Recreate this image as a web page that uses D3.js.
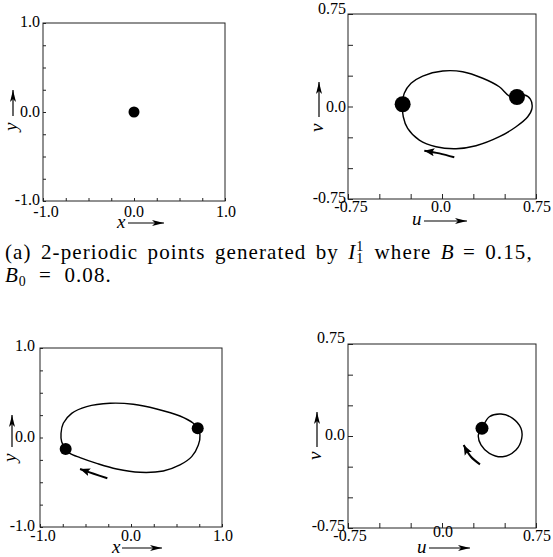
<!DOCTYPE html>
<html>
<head>
<meta charset="utf-8">
<script src="https://cdn.jsdelivr.net/npm/d3@7"></script>
<style>
  body { margin: 0; background: #fff; }
  text { font-family: "Liberation Serif", "Times New Roman", serif; fill: #000; }
</style>
</head>
<body>
<div id="chart"></div>
<script>
const width = 553;
const height = 557;

// axis ticks and labels
const xyTicks = [-1, -0.75, -0.5, -0.25, 0, 0.25, 0.5, 0.75, 1];
const xyLabelValues = [-1, 0, 1];
const xyTickLabels = ["-1.0", "0.0", "1.0"];
const uvTicks = [-0.75, -0.5, -0.25, 0, 0.25, 0.5, 0.75];
const uvLabelValues = [-0.75, 0, 0.75];
const uvTickLabels = ["-0.75", "0.0", "0.75"];

// (a) top row: x-y plane and u-v plane
const dotsA_xy = [[0, 0]];
const orbitA_uv = [
  [-0.314, 0.018], [-0.301, 0.107], [-0.247, 0.188], [-0.154, 0.247], [0.006, 0.288],
  [0.165, 0.282], [0.325, 0.229], [0.457, 0.160], [0.537, 0.085], [0.598, 0.077],
  [0.657, 0.093], [0.705, 0.060], [0.718, -0.015], [0.684, -0.083], [0.591, -0.164],
  [0.458, -0.245], [0.271, -0.318], [0.112, -0.342], [-0.048, -0.326], [-0.181, -0.272],
  [-0.274, -0.177], [-0.309, -0.083]
];
const dotsA_uv = [[-0.314, 0.018], [0.598, 0.077]];
const arrowA_uv = [[0.098, -0.412], [-0.021, -0.380], [-0.141, -0.358]];

// bottom row
const orbitB_xy = [
  [-0.718, -0.128], [-0.762, -0.047], [-0.769, 0.047], [-0.744, 0.159], [-0.652, 0.270],
  [-0.487, 0.345], [-0.231, 0.382], [0.025, 0.371], [0.282, 0.319], [0.538, 0.240],
  [0.685, 0.159], [0.733, 0.103], [0.758, 0.028], [0.740, -0.084], [0.667, -0.214],
  [0.538, -0.307], [0.355, -0.374], [0.099, -0.389], [-0.157, -0.352], [-0.377, -0.289],
  [-0.560, -0.225], [-0.670, -0.177]
];
const dotsB_xy = [[-0.718, -0.128], [0.733, 0.103]];
const arrowB_xy = [[-0.260, -0.456], [-0.410, -0.405], [-0.560, -0.352]];
const orbitB_uv = [
  [0.319, 0.063], [0.378, 0.157], [0.471, 0.179], [0.564, 0.144], [0.630, 0.063],
  [0.636, -0.019], [0.590, -0.114], [0.484, -0.169], [0.378, -0.141], [0.311, -0.073],
  [0.290, 0.008]
];
const dotsB_uv = [[0.319, 0.063]];
const arrowB_uv = [[0.303, -0.231], [0.231, -0.169], [0.173, -0.073]];

const svg = d3.select("#chart").append("svg")
  .attr("width", width)
  .attr("height", height);

const defs = svg.append("defs");
defs.append("marker")
  .attr("id", "axisHead")
  .attr("markerUnits", "userSpaceOnUse")
  .attr("markerWidth", 14).attr("markerHeight", 8)
  .attr("viewBox", "0 -4 14 8")
  .attr("refX", 12).attr("refY", 0)
  .attr("orient", "auto")
  .append("path").attr("d", "M0,-3 L12,0 L0,3 L3,0 Z").attr("fill", "#000");
defs.append("marker")
  .attr("id", "orbitHead")
  .attr("markerUnits", "userSpaceOnUse")
  .attr("markerWidth", 12).attr("markerHeight", 10)
  .attr("viewBox", "0 -5 12 10")
  .attr("refX", 10).attr("refY", 0)
  .attr("orient", "auto")
  .append("path").attr("d", "M0,-4 L10,0 L0,4 L2,0 Z").attr("fill", "#000");

const panels = [
  {
    left: 43, right: 225, top: 23, bottom: 201, domain: [-1, 1], tick: 3,
    ticks: xyTicks, labelValues: xyLabelValues, labels: xyTickLabels,
    yLab: { dx: 3, dy: [4, 5, 4] }, xLab: { dx: [3, 0, 1], dy: [16, 16, 16] },
    dots: dotsA_xy, r: 5.5,
    xName: { t: "x", x: 117, y: 228, a0: 128, a1: 164, ay: 223 },
    yName: { t: "y", x: 13, y: 131, a0: 116, a1: 90 }
  },
  {
    left: 348, right: 536, top: 14, bottom: 199, domain: [-0.75, 0.75], tick: 5,
    ticks: uvTicks, labelValues: uvLabelValues, labels: uvTickLabels,
    yLab: { dx: 2, dy: [0, 5, 4] }, xLab: { dx: [3, -1, 1], dy: [13, 13, 13] },
    orbit: orbitA_uv, dots: dotsA_uv, r: 8, arrow: arrowA_uv,
    xName: { t: "u", x: 412, y: 225, a0: 424, a1: 467, ay: 221 },
    yName: { t: "v", x: 319, y: 132, a0: 117, a1: 82 }
  },
  {
    left: 40, right: 222, top: 348, bottom: 527, domain: [-1, 1], tick: 3,
    ticks: xyTicks, labelValues: xyLabelValues, labels: xyTickLabels,
    yLab: { dx: 5, dy: [3, 4, 4] }, xLab: { dx: [3, 0, 1], dy: [14, 14, 14] },
    orbit: orbitB_xy, dots: dotsB_xy, r: 6, arrow: arrowB_xy,
    xName: { t: "x", x: 112, y: 553, a0: 122, a1: 162, ay: 548 },
    yName: { t: "y", x: 12, y: 462, a0: 447, a1: 415 }
  },
  {
    left: 348, right: 536, top: 344, bottom: 528, domain: [-0.75, 0.75], tick: 5,
    ticks: uvTicks, labelValues: uvLabelValues, labels: uvTickLabels,
    yLab: { dx: 3, dy: [-1, 4, 3] }, xLab: { dx: [2, 1, 1], dy: [13, 9, 13] },
    orbit: orbitB_uv, dots: dotsB_uv, r: 6.5, arrow: arrowB_uv,
    xName: { t: "u", x: 417, y: 553, a0: 429, a1: 470, ay: 548 },
    yName: { t: "v", x: 317, y: 460, a0: 447, a1: 412 }
  }
];

panels.forEach(p => {
  const g = svg.append("g");
  const x = d3.scaleLinear().domain(p.domain).range([p.left, p.right]);
  const y = d3.scaleLinear().domain(p.domain).range([p.bottom, p.top]);

  // inward ticks
  g.append("g")
    .attr("transform", `translate(${p.left},0)`)
    .call(d3.axisLeft(y).tickValues(p.ticks).tickSize(-p.tick).tickFormat(""))
    .call(a => a.select(".domain").remove())
    .selectAll("line").attr("stroke", "#222");
  g.append("g")
    .attr("transform", `translate(0,${p.bottom})`)
    .call(d3.axisBottom(x).tickValues(p.ticks).tickSize(-p.tick).tickFormat(""))
    .call(a => a.select(".domain").remove())
    .selectAll("line").attr("stroke", "#222");

  g.append("rect")
    .attr("x", p.left).attr("y", p.top)
    .attr("width", p.right - p.left).attr("height", p.bottom - p.top)
    .attr("fill", "none").attr("stroke", "#222").attr("stroke-width", 1);

  // tick labels
  p.labelValues.forEach((v, i) => {
    g.append("text")
      .attr("x", p.left - p.yLab.dx)
      .attr("y", y(v) + p.yLab.dy[2 - i])
      .attr("text-anchor", "end")
      .attr("font-size", 16)
      .text(p.labels[i]);
    g.append("text")
      .attr("x", x(v) + p.xLab.dx[i])
      .attr("y", p.bottom + p.xLab.dy[i])
      .attr("text-anchor", "middle")
      .attr("font-size", 16)
      .text(p.labels[i]);
  });

  // axis names with arrows
  const xn = p.xName;
  g.append("text").attr("x", xn.x).attr("y", xn.y)
    .attr("font-size", 19).attr("font-style", "italic").text(xn.t);
  g.append("line")
    .attr("x1", xn.a0).attr("y1", xn.ay).attr("x2", xn.a1).attr("y2", xn.ay)
    .attr("stroke", "#000").attr("stroke-width", 1.2)
    .attr("marker-end", "url(#axisHead)");
  const yn = p.yName;
  g.append("text")
    .attr("transform", `translate(${yn.x + 4},${yn.y}) rotate(-90)`)
    .attr("font-size", 19).attr("font-style", "italic").text(yn.t);
  g.append("line")
    .attr("x1", yn.x).attr("y1", yn.a0).attr("x2", yn.x).attr("y2", yn.a1)
    .attr("stroke", "#000").attr("stroke-width", 1.2)
    .attr("marker-end", "url(#axisHead)");

  // orbit
  if (p.orbit) {
    const line = d3.line()
      .x(d => x(d[0])).y(d => y(d[1]))
      .curve(d3.curveCatmullRomClosed.alpha(0.5));
    g.append("path")
      .attr("d", line(p.orbit))
      .attr("fill", "none").attr("stroke", "#000").attr("stroke-width", 1.4);
  }
  if (p.arrow) {
    const aline = d3.line()
      .x(d => x(d[0])).y(d => y(d[1]))
      .curve(d3.curveCatmullRom);
    g.append("path")
      .attr("d", aline(p.arrow))
      .attr("fill", "none").attr("stroke", "#000").attr("stroke-width", 2)
      .attr("marker-end", "url(#orbitHead)");
  }

  g.selectAll("circle.dot")
    .data(p.dots)
    .enter()
    .append("circle")
    .attr("class", "dot")
    .attr("cx", d => x(d[0]))
    .attr("cy", d => y(d[1]))
    .attr("r", p.r)
    .attr("fill", "#000");
});

// caption (TeX-like spacing)
const capSize = 21;
function captionLine(pieces, x0, y0) {
  let cx = x0;
  pieces.forEach(pc => {
    if (pc.sup !== undefined) {
      const a = svg.append("text").attr("x", cx + 1).attr("y", y0 - 8)
        .attr("font-size", capSize * 0.66).text(pc.sup);
      const b = svg.append("text").attr("x", cx + 1).attr("y", y0 + 4)
        .attr("font-size", capSize * 0.66).text(pc.sub);
      cx += Math.max(a.node().getComputedTextLength(), b.node().getComputedTextLength()) + 3;
    } else if (pc.sub !== undefined) {
      const b = svg.append("text").attr("x", cx + 1).attr("y", y0 + 4)
        .attr("font-size", capSize * 0.66).text(pc.sub);
      cx += b.node().getComputedTextLength() + 2;
    } else {
      const t = svg.append("text").attr("x", cx).attr("y", y0)
        .attr("font-size", capSize)
        .attr("font-style", pc.italic ? "italic" : "normal")
        .attr("letter-spacing", pc.italic ? 0 : 1.1)
        .attr("word-spacing", pc.wide ? 6 : 3)
        .style("white-space", "pre")
        .text(pc.t);
      cx += t.node().getComputedTextLength();
    }
  });
}
captionLine([
  { t: "(a) 2-periodic points generated by " },
  { t: "I", italic: true },
  { sup: "1", sub: "1" },
  { t: " where " },
  { t: "B", italic: true },
  { t: " = 0.15," }
], 5, 259);
captionLine([
  { t: "B", italic: true },
  { sub: "0" },
  { t: " = 0.08.", wide: true }
], 5, 282);
</script>
</body>
</html>
